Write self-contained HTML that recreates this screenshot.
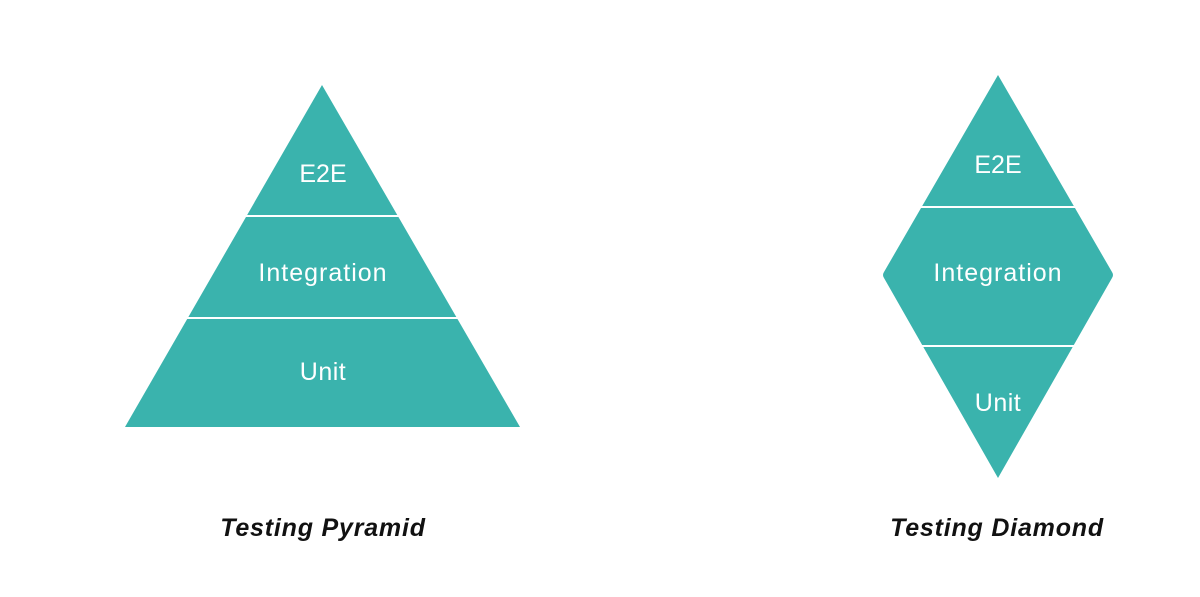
<!DOCTYPE html>
<html><head><style>
html,body{margin:0;padding:0;background:#fff;width:1200px;height:597px;overflow:hidden}
svg{display:block}
</style></head><body>
<svg width="1200" height="597" viewBox="0 0 1200 597" xmlns="http://www.w3.org/2000/svg">
<g fill="#3ab3ad">
<polygon points="322,85 520,427 125,427"/>
<path d="M998,75 L1112,272 Q1114,275 1112,278 L998,478 L884,278 Q882,275 884,272 Z"/>
</g>
<g stroke="#fff" stroke-width="2">
<line x1="100" y1="216" x2="540" y2="216"/>
<line x1="100" y1="318" x2="540" y2="318"/>
<line x1="870" y1="207" x2="1130" y2="207"/>
<line x1="870" y1="346" x2="1130" y2="346"/>
</g>
<g fill="#fff" font-family="Liberation Sans, sans-serif" font-size="25" text-anchor="middle">
<text x="323" y="182">E2E</text>
<text x="323" y="281" letter-spacing="1">Integration</text>
<text x="323" y="380" letter-spacing="0.5">Unit</text>
<text x="998" y="173">E2E</text>
<text x="998" y="281" letter-spacing="1">Integration</text>
<text x="998" y="411" letter-spacing="0.5">Unit</text>
</g>
<g fill="#111" font-family="Liberation Sans, sans-serif" font-size="25" font-weight="bold" font-style="italic" text-anchor="middle" letter-spacing="0.8">
<text x="323" y="536">Testing Pyramid</text>
<text x="997" y="536">Testing Diamond</text>
</g>
</svg>
</body></html>
